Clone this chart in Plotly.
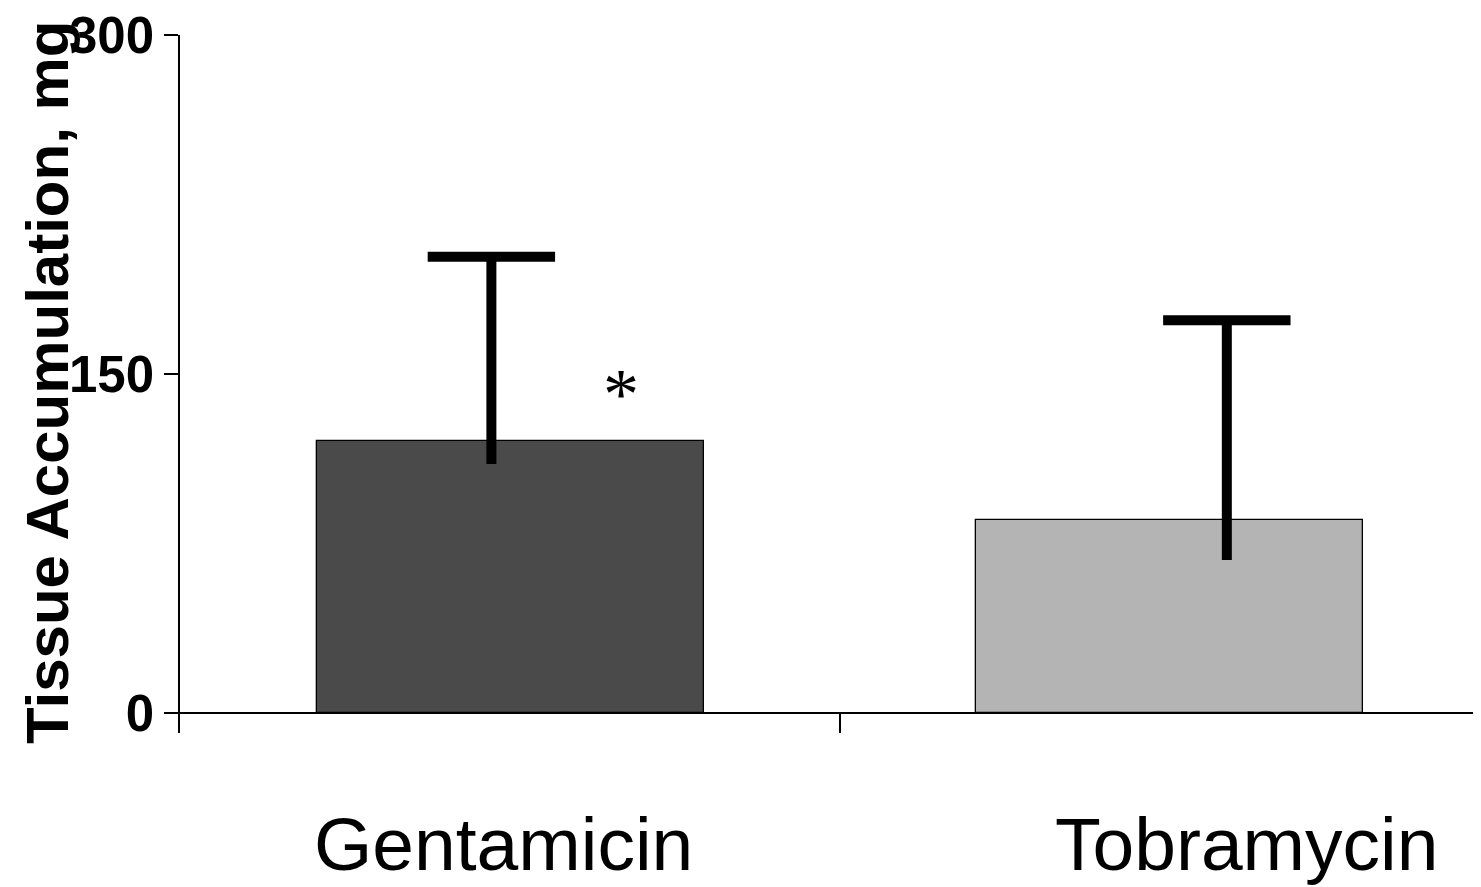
import plotly.graph_objects as go

# ---- data ----
categories = ["Gentamicin", "Tobramycin"]
means = [120.5, 85.4]            # bar heights, mg
err_top = [201.9, 173.8]         # upper end of error bar, mg
err_bottom = [110.2, 67.7]       # lower end of the drawn whisker, mg
y_tick_vals = [0, 150, 300]
y_tick_text = ["0", "150", "300"]
bar_colors = ["#4a4a4a", "#b4b4b4"]
significance = ["*", ""]
y_title = "Tissue Accumulation, mg"

# ---- styling / layout constants ----
# the page body has an 8px margin, so the figure is drawn 8px smaller
W, H = 1481 - 8, 887 - 8
ERR_SHIFT = [-0.029, 0.087]      # whisker offset from bar centre (category units)
LABEL_SHIFT_PX = [-7, 77]
SANS = "Liberation Sans, Arial, sans-serif"

xpos = list(range(len(categories)))

fig = go.Figure()
fig.add_trace(go.Bar(
    x=xpos, y=means, width=0.587,
    marker=dict(color=bar_colors, line=dict(color="black", width=1.3)),
    showlegend=False, hoverinfo="skip",
))

for i in xpos:
    xe = xpos[i] + ERR_SHIFT[i]
    fig.add_trace(go.Scatter(
        x=[xe, xe], y=[err_bottom[i], err_top[i]], mode="lines",
        line=dict(color="black", width=10), showlegend=False, hoverinfo="skip",
    ))
    fig.add_trace(go.Scatter(
        x=[xe], y=[err_top[i]], mode="markers",
        marker=dict(symbol="line-ew", size=91, color="black",
                    line=dict(color="black", width=10)),
        showlegend=False, hoverinfo="skip",
    ))

annotations = []
for i, lab in enumerate(categories):
    annotations.append(dict(
        x=xpos[i], xref="x", y=0, yref="paper", text=lab, showarrow=False,
        xanchor="center", yanchor="middle", xshift=LABEL_SHIFT_PX[i], yshift=-111,
        font=dict(family=SANS, size=75, color="black"),
    ))
for i, s in enumerate(significance):
    if s:
        annotations.append(dict(
            x=xpos[i], xref="x", y=means[i], yref="y", text=s, showarrow=False,
            xanchor="center", yanchor="middle", xshift=111, yshift=47,
            font=dict(family="Liberation Serif, Times New Roman, serif", size=72, color="black"),
        ))
# y-axis title
annotations.append(dict(
    x=0, xref="paper", y=0.5, yref="paper", text=y_title, showarrow=False,
    textangle=-90, xanchor="center", yanchor="middle", xshift=-133, yshift=2,
    font=dict(family=SANS, size=60, color="black", weight="bold"),
))

x0 = -0.5015
fig.update_layout(
    width=W, height=H,
    margin=dict(l=172, r=0, t=27, b=154, pad=0),
    paper_bgcolor="white", plot_bgcolor="white",
    bargap=0,
    annotations=annotations,
    xaxis=dict(
        range=[x0, x0 + 1301 / 659], showline=False, showgrid=False, zeroline=False,
        tickvals=[0.5], ticktext=[""], ticks="inside", ticklen=21,
        tickwidth=1.5, tickcolor="black", fixedrange=True,
    ),
    yaxis=dict(
        range=[-8.85, 300], showline=True, linecolor="black", linewidth=1.5,
        ticks="outside", ticklen=14, tickwidth=1.5, tickcolor="black",
        tickvals=y_tick_vals, ticktext=y_tick_text, ticklabeloverflow="allow",
        tickfont=dict(family=SANS, size=51, color="black", weight="bold"),
        zeroline=True, zerolinecolor="black", zerolinewidth=1.5,
        showgrid=False, automargin=False,
    ),
)

fig.write_html("out.html")
